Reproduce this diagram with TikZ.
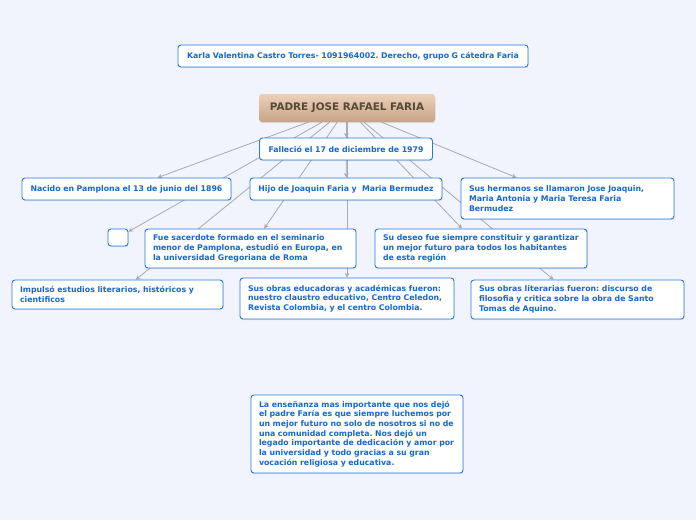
\documentclass[tikz,border=0pt]{standalone}
\usepackage{fontspec}
\setmainfont{DejaVu Sans}
\usetikzlibrary{arrows.meta,backgrounds,shadows}
\frenchspacing

\definecolor{pagebg}{RGB}{241,244,253}
\definecolor{cardline}{RGB}{38,122,222}
\definecolor{cardtext}{RGB}{22,104,206}
\definecolor{linkgray}{RGB}{168,170,178}
\definecolor{rootdark}{RGB}{88,72,56}
\definecolor{roottop}{RGB}{236,209,186}
\definecolor{rootbottom}{RGB}{198,163,134}

\tikzset{
  card/.style={draw=cardline, fill=white, line width=0.9pt, rounded corners=3pt,
    text=cardtext, font=\fontsize{7.8}{9.7}\selectfont\bfseries,
    inner xsep=8pt, inner ysep=0pt, align=left,
    drop shadow={opacity=0.18, shadow xshift=0.6pt, shadow yshift=-1.2pt}},
  root/.style={shade, top color=roottop, bottom color=rootbottom, rounded corners=3pt,
    text=rootdark, font=\fontsize{10.4}{12}\selectfont\bfseries,
    minimum width=176pt, minimum height=28pt,
    drop shadow={opacity=0.18, shadow xshift=0.6pt, shadow yshift=-1.2pt}},
  link/.style={draw=linkgray, line width=0.8pt, -{Stealth[length=4.5pt,width=4.5pt]}}
}

\begin{document}
\begin{tikzpicture}[x=1pt,y=-1pt]
  \useasboundingbox (0,0) rectangle (696,520);

  % title and root
  \node[card, align=center, text width=334pt, minimum height=22pt] (autora) at (353,56)
    {Karla Valentina Castro Torres- 1091964002. Derecho, grupo G cátedra Faria};
  \node[root] (padre) at (347,108) {PADRE JOSE RAFAEL FARIA};

  % first row
  \node[card, align=center, text width=157pt, minimum height=22pt] (fallecio) at (346,149)
    {Falleció el 17 de diciembre de 1979};
  \node[card, align=center, text width=193pt, minimum height=22pt] (nacido) at (126.5,189)
    {Nacido en Pamplona el 13 de junio del 1896};
  \node[card, align=center, text width=182pt, inner xsep=5pt, minimum height=22pt] (hijo) at (346,189)
    {Hijo de Joaquin Faria y \ Maria Bermudez};
  \node[card, text width=197pt, minimum height=41pt] (hermanos) at (567.5,198.5)
    {Sus hermanos se llamaron Jose Joaquin,\\ Maria Antonia y Maria Teresa Faria\\ Bermudez};

  % second row
  \node[card, minimum width=20pt, minimum height=17pt, inner xsep=0pt] (vacio) at (118,237.5) {};
  \node[card, text width=195pt, minimum height=39pt] (fue) at (250.5,248.5)
    {Fue sacerdote formado en el seminario\\ menor de Pamplona, estudió en Europa, en\\ la universidad Gregoriana de Roma};
  \node[card, text width=196pt, minimum height=39pt] (deseo) at (481,248.5)
    {Su deseo fue siempre constituir y garantizar\\ un mejor futuro para todos los habitantes\\ de esta región};

  % third row
  \node[card, text width=195pt, minimum height=29pt] (impulso) at (117.5,294.5)
    {Impulsó estudios literarios, históricos y\\ cientificos};
  \node[card, text width=198pt, minimum height=41pt] (educadoras) at (347,298.5)
    {Sus obras educadoras y académicas fueron:\\ nuestro claustro educativo, Centro Celedon,\\ Revista Colombia, y el centro Colombia.};
  \node[card, text width=197pt, minimum height=39pt] (literarias) at (577.5,299.5)
    {Sus obras literarias fueron: discurso de\\ filosofia y critica sobre la obra de Santo\\ Tomas de Aquino.};

  % conclusion
  \node[card, text width=196pt, minimum height=78pt] (ensenanza) at (357,434)
    {La enseñanza mas importante que nos dejó\\ el padre Faría es que siempre luchemos por\\ un mejor futuro no solo de nosotros si no de\\ una comunidad completa. Nos dejó un\\ legado importante de dedicación y amor por\\ la universidad y todo gracias a su gran\\ vocación religiosa y educativa.};

  \begin{pgfonlayer}{background}
    \fill[pagebg] (0,0) rectangle (696,520);
    \foreach \n in {fallecio,nacido,hijo,hermanos,vacio,fue,deseo,impulso,educadoras,literarias}
      \draw[link] (padre) -- (\n);
  \end{pgfonlayer}
\end{tikzpicture}
\end{document}
